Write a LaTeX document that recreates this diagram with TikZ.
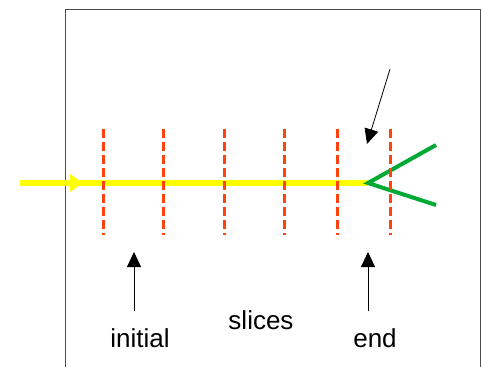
\documentclass[tikz,border=0pt]{standalone}
\usepackage{fontspec}
\setmainfont{Liberation Sans}
\usetikzlibrary{arrows.meta,decorations.markings}
\definecolor{beamyellow}{RGB}{255,255,0}
\definecolor{slicered}{RGB}{255,66,14}
\definecolor{forkgreen}{RGB}{0,169,51}
\tikzset{
  slice/.style={slicered, line width=3pt, dash pattern=on 9pt off 4pt},
  pointer/.style={-{Triangle[length=15pt,width=14pt]}, line width=0.8pt},
  label/.style={font=\fontsize{26}{30}\selectfont, inner sep=0pt}
}
\begin{document}
\begin{tikzpicture}[x=1pt, y=-1pt]
        \useasboundingbox (0,0) rectangle (481,367);
        % Frame
        \draw[black!70, line width=1pt] (65,367) -- (65,9) -- (480,9) -- (480,367);

        % Nodes
        \coordinate (S) at (20,183);
        \coordinate (E) at (368,183);
        \coordinate (G1) at (436,145);
        \coordinate (G2) at (436,205);
        \coordinate (P) at (390,69);
        \coordinate (Pt) at (367,144);
        \coordinate (I) at (134,311);
        \coordinate (It) at (134,252);
        \coordinate (N) at (368,311);
        \coordinate (Nt) at (368,252);
        \node[label] (initial) at (140,338) {initial};
        \node[label] (slices) at (261,320) {slices};
        \node[label] (end) at (375,338) {end};

        % Edges
        \draw[beamyellow, line width=6.5pt, postaction={decorate},
              decoration={markings, mark=at position 63pt with
              {\arrow{Triangle[length=13pt,width=17pt]}}}] (S) -- (E);
        \draw[forkgreen, line width=4pt] (G1) -- (E) -- (G2);
        \draw[pointer] (P) -- (Pt);
        \draw[pointer] (I) -- (It);
        \draw[pointer] (N) -- (Nt);

        % Slices
        \foreach \x in {103,163,224,284,337,390}
            \draw[slice] (\x,129) -- (\x,235);
    \end{tikzpicture}
\end{document}
